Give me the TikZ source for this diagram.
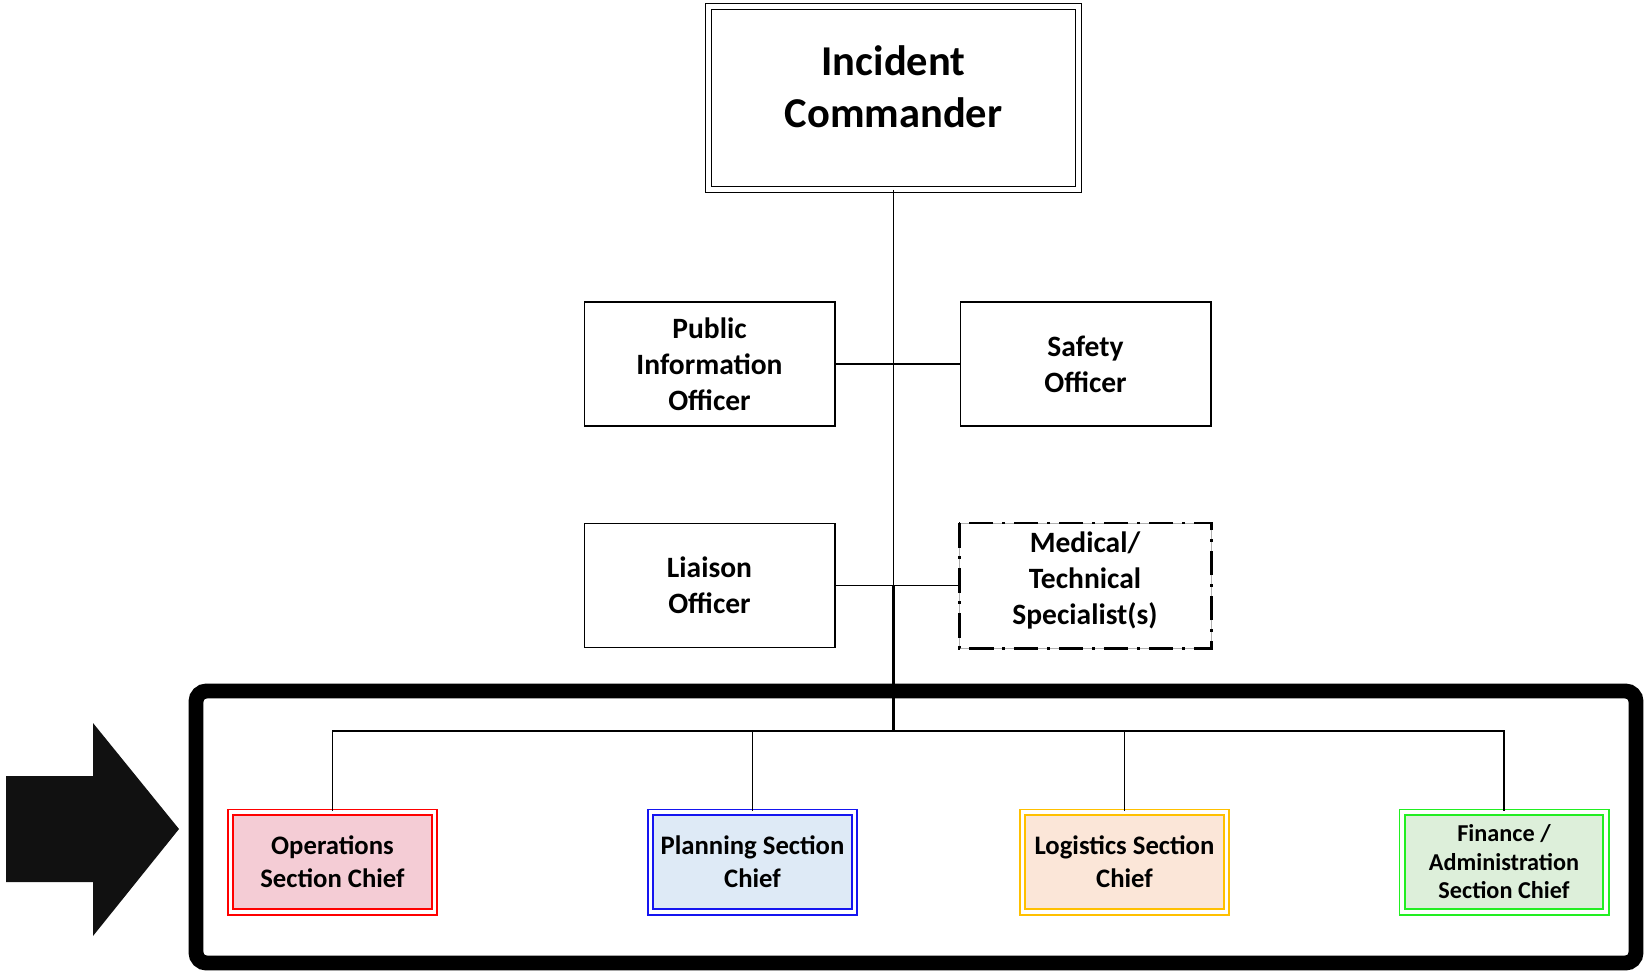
\documentclass[tikz,border=0pt]{standalone}
\usepackage[dvipsnames]{xcolor}
\usepackage{tikz}
\usepackage{fontspec}
\setmainfont{Carlito}
\definecolor{OpsLine}{HTML}{FF0000}
\definecolor{OpsFill}{HTML}{F4CCD5}
\definecolor{PlanLine}{HTML}{1515F0}
\definecolor{PlanFill}{HTML}{DEEAF6}
\definecolor{LogLine}{HTML}{FFC000}
\definecolor{LogFill}{HTML}{FBE6D8}
\definecolor{FinLine}{HTML}{22EE22}
\definecolor{FinFill}{HTML}{DDEFDA}
\definecolor{ArrowBlack}{HTML}{111111}

\begin{document}
\begin{tikzpicture}[x = 0.02cm, y = -0.02cm,
              officer/.style = {draw, line width = 0.6pt, minimum width = 5.02cm, minimum height = 2.48cm,
                inner sep = 0pt, align = center, font = \fontsize{16.8}{20.5}\selectfont\bfseries},
              chief/.style = {draw, double = white, line width = 1.1pt, double distance = 1.8pt,
                minimum width = 4.08cm, minimum height = 2.0cm, inner sep = 0pt, align = center,
                font = \fontsize{15.2}{19}\selectfont\bfseries},
              link/.style = {line width = 0.6pt},
              trunk/.style = {line width = 1.4pt},
              branch/.style = {line width = 1.1pt}]
              \useasboundingbox (0, 0) rectangle (1647, 971);
              \node [draw, double = white, line width = 0.6pt, double distance = 3pt, minimum width = 7.39cm,
                minimum height = 3.65cm, inner sep = 0pt, align = center,
                font = \fontsize{24.2}{29.6}\selectfont\bfseries] (ic) at (893.5, 98) {Incident\\Commander\\[-16.6pt]\mbox{}};
              \node [officer] (pio) at (709.5, 364) {Public\\Information\\Officer};
              \node [officer] (safety) at (1085.5, 364) {Safety\\Officer};
              \node [officer] (liaison) at (709.5, 585.5) {Liaison\\Officer};
              \node [officer, draw = none] (med) at (1085, 585.5) {Medical/\\Technical\\Specialist(s)\\[-12.4pt]\mbox{}};
              \draw [gray!60, line width = 0.4pt] (med.south west) rectangle (med.north east);
              \draw [line width = 1.7pt, dash pattern = on 14pt off 5pt on 1.6pt off 5pt]
                (med.north west) rectangle (med.south east);
              \draw [line width = 8.5pt, rounded corners = 6pt] (196, 691) rectangle (1636, 963);
              \fill [fill = ArrowBlack] (6, 776) -- (93, 776) -- (93, 723) -- (179, 829) -- (93, 936)
                -- (93, 882) -- (6, 882) -- cycle;
              \node [chief, draw = OpsLine, fill = OpsFill] (ops) at (332.5, 862) {Operations\\Section Chief};
              \node [chief, draw = PlanLine, fill = PlanFill] (plan) at (752.5, 862) {Planning Section\\Chief};
              \node [chief, draw = LogLine, fill = LogFill] (log) at (1124.5, 862) {Logistics Section\\Chief};
              \node [chief, draw = FinLine, fill = FinFill, font = \fontsize{13.8}{16.2}\selectfont\bfseries]
                (fin) at (1504, 862) {Finance /\\Administration\\Section Chief};
              \coordinate (bus) at (893.5, 731);
              \draw [link] (ic.south) -- (ic.south |- liaison.east);
              \draw [trunk] (ic.south |- liaison.east) -- (bus);
              \draw [link] (pio.east) -- (safety.west);
              \draw [link] (liaison.east) -- (med.west);
              \draw [branch] (ops.north) -- (ops.north |- bus) -| (fin.north);
              \draw [branch] (plan.north) -- (plan.north |- bus);
              \draw [branch] (log.north) -- (log.north |- bus);
            \end{tikzpicture}
\end{document}
